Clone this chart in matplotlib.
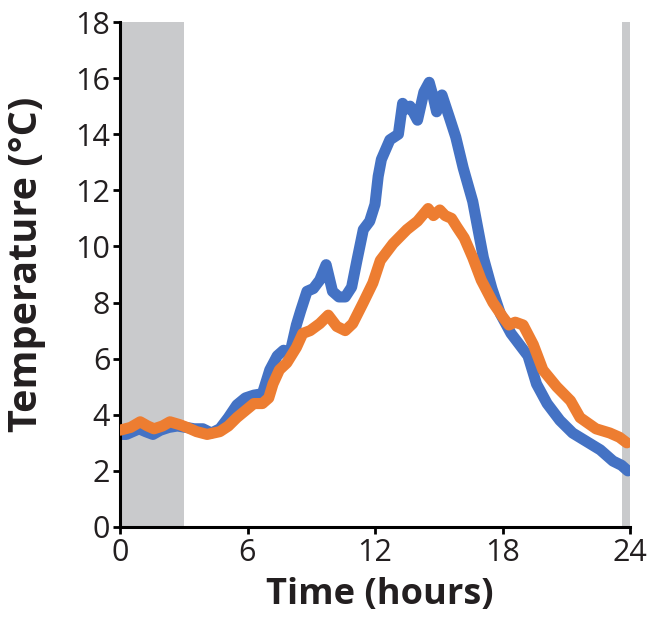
import matplotlib
matplotlib.use("Agg")
import matplotlib.pyplot as plt

# ---- data ----
blue_t = [0.0, 0.3, 0.6, 0.9, 1.2, 1.55, 1.9, 2.3, 2.7, 3.1, 3.5, 3.9, 4.3, 4.7, 5.1, 5.5, 5.9,
          6.3, 6.7, 7.05, 7.4, 7.7, 8.0, 8.3, 8.5, 8.8, 9.1, 9.4, 9.7, 10.0, 10.3, 10.6, 10.9,
          11.15, 11.45, 11.75, 12.0, 12.15, 12.3, 12.7, 13.1, 13.3, 13.5, 13.65, 14.0, 14.3,
          14.55, 14.75, 14.9, 15.15, 15.5, 15.8, 16.15, 16.6, 17.1, 17.5, 17.9, 18.4, 18.9,
          19.2, 19.6, 20.1, 20.7, 21.3, 21.95, 22.6, 23.2, 23.6, 23.9]
blue_v = [3.3, 3.3, 3.4, 3.5, 3.4, 3.3, 3.45, 3.55, 3.6, 3.55, 3.5, 3.5, 3.35, 3.5, 3.9, 4.35, 4.6,
          4.7, 4.75, 5.6, 6.1, 6.3, 6.2, 7.2, 7.7, 8.4, 8.5, 8.8, 9.35, 8.4, 8.2, 8.2, 8.55,
          9.5, 10.6, 10.9, 11.5, 12.5, 13.1, 13.8, 14.0, 15.1, 14.9, 15.0, 14.5, 15.5,
          15.85, 15.3, 14.8, 15.4, 14.6, 13.9, 12.8, 11.6, 9.6, 8.5, 7.6, 6.9, 6.4,
          6.1, 5.1, 4.4, 3.8, 3.35, 3.05, 2.75, 2.35, 2.2, 2.0]

orange_t = [0.0, 0.5, 0.95, 1.3, 1.6, 2.0, 2.35, 2.8, 3.15, 3.6, 4.1, 4.7, 5.1, 5.5, 5.9, 6.3,
            6.7, 7.0, 7.2, 7.5, 7.85, 8.3, 8.6, 8.95, 9.4, 9.8, 10.2, 10.6, 10.95, 11.45, 11.9,
            12.25, 12.85, 13.5, 14.0, 14.5, 14.75, 15.05, 15.3, 15.6, 15.85, 16.2, 16.6, 17.0,
            17.55, 18.0, 18.3, 18.6, 18.97, 19.45, 19.9, 20.55, 21.2, 21.65, 22.4, 23.05, 23.5, 23.85]
orange_v = [3.45, 3.55, 3.75, 3.6, 3.5, 3.6, 3.75, 3.65, 3.55, 3.4, 3.3, 3.4, 3.6, 3.9, 4.15, 4.4,
            4.4, 4.6, 5.1, 5.6, 5.85, 6.4, 6.9, 7.0, 7.25, 7.55, 7.15, 7.0, 7.25, 8.0, 8.7,
            9.5, 10.1, 10.6, 10.9, 11.35, 11.1, 11.3, 11.1, 11.0, 10.7, 10.3, 9.6, 8.8,
            8.0, 7.5, 7.2, 7.3, 7.2, 6.5, 5.6, 5.0, 4.5, 3.9, 3.5, 3.35, 3.2, 3.0]

shade_spans = [(0.0, 3.0), (23.6, 24.0)]
x_ticks = [0, 6, 12, 18, 24]
y_ticks = [0, 2, 4, 6, 8, 10, 12, 14, 16, 18]

plt.rcParams['font.family'] = ['Open Sans', 'DejaVu Sans']

fig = plt.figure(figsize=(6.51, 6.18), dpi=100)
ax = fig.add_axes([120/651, 91/618, 510/651, 505/618])

for a, b in shade_spans:
    ax.axvspan(a, b, color='#c9cacc', lw=0, zorder=0)

lw = 8
ax.plot(blue_t, blue_v, color='#4472C4', lw=lw, solid_capstyle='round', solid_joinstyle='round', zorder=2)
ax.plot(orange_t, orange_v, color='#ED7D31', lw=lw, solid_capstyle='round', solid_joinstyle='round', zorder=3)

ax.set_xlim(0, 24)
ax.set_ylim(0, 18)
ax.set_xticks(x_ticks)
ax.set_yticks(y_ticks)
for s in ['top', 'right']:
    ax.spines[s].set_visible(False)
for s in ['left', 'bottom']:
    ax.spines[s].set_linewidth(2.2)
    ax.spines[s].set_color('black')
ax.tick_params(direction='out', length=5, width=2, labelsize=22, labelcolor='#231F20', pad=2)
ax.tick_params(axis='x', pad=3)

ax.set_xlabel('Time (hours)', fontsize=26, fontweight='bold', color='#231F20')
ax.xaxis.set_label_coords(0.5 + 5/510, -(604 - 527)/505)
ax.xaxis.label.set_va('baseline')

ax.set_ylabel('Temperature (°C)', fontsize=28.5, fontweight='bold', color='#231F20')
ax.yaxis.set_label_coords(-(120 - 27)/510, (527 - 264)/505)
ax.yaxis.label.set_va('center')

fig.savefig('out.png', dpi=100)
